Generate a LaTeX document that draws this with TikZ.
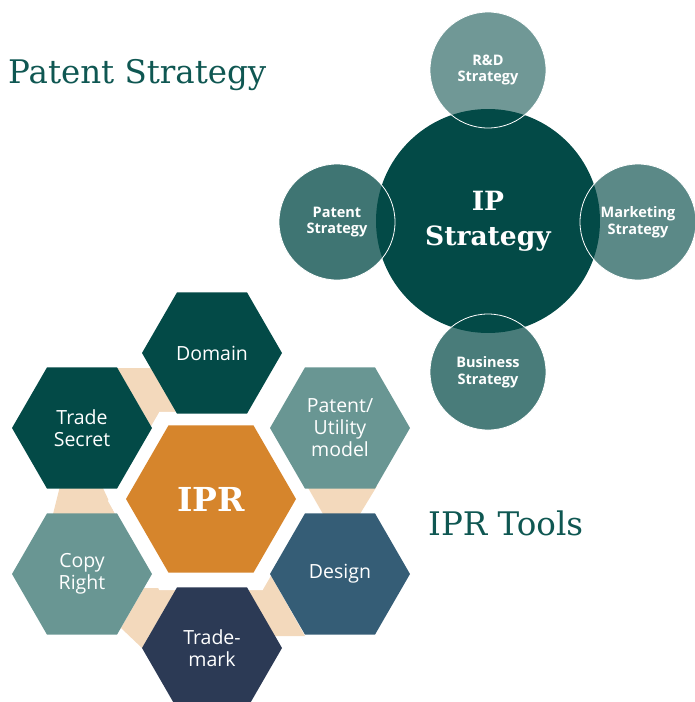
\documentclass[tikz,border=0pt]{standalone}
\usepackage{fontspec}
\setmainfont{DejaVu Serif}
\newfontfamily\osans{Open Sans}
\usetikzlibrary{shapes.geometric}
\definecolor{dteal}{HTML}{034A47}
\definecolor{gteal}{HTML}{699693}
\definecolor{sblue}{HTML}{355D76}
\definecolor{navyc}{HTML}{2C3A55}
\definecolor{orng}{HTML}{D6852C}
\definecolor{peach}{HTML}{F3D9BC}
\definecolor{ttl}{HTML}{0F5752}
\begin{document}
\begin{tikzpicture}[x=1pt,y=-1pt,
  hexa/.style={regular polygon, regular polygon sides=6, minimum size=140pt, inner sep=0pt,
    text=white, align=center, font=\osans\fontsize{19.5}{22}\selectfont},
  smallc/.style={circle, minimum size=116pt, inner sep=0pt, draw=white, line width=0.8pt,
    fill=dteal, text=white, text opacity=1, align=center,
    font=\osans\bfseries\fontsize{14.5}{16.5}\selectfont},
  titlefont/.style={anchor=base west, inner sep=0pt, text=ttl, font=\fontsize{32.5}{38}\selectfont},
  band/.style={fill=peach}]
\useasboundingbox (0,0) rectangle (695,702);
% peach bands between neighbouring hexagons
\fill[band] (117,368) -- (151,368) -- (177,413) -- (152,428) -- cycle;
\fill[band] (60,486) -- (102,486) -- (115,514) -- (53,514) -- cycle;
\fill[band] (144,588) -- (177,588) -- (142,648) -- (121,628) -- cycle;
\fill[band] (247,588) -- (270,574) -- (305,636) -- (274,636) -- cycle;
\fill[band] (307,486) -- (377,486) -- (360,514) -- (323,514) -- cycle;
% white halo around IPR
\node[hexa, fill=white, minimum size=206pt] (halo) at (211,501) {};
% hexagons
\node[hexa, fill=dteal] (dom) at (212,353) {Domain};
\node[hexa, fill=dteal] (ts) at (82,428) {Trade\\Secret};
\node[hexa, fill=gteal] (pu) at (340,428) {Patent/\\Utility\\model};
\node[hexa, fill=gteal] (cr) at (82,574) {Copy\\Right};
\node[hexa, fill=sblue] (des) at (340,574) {Design};
\node[hexa, fill=navyc] (tm) at (212,648) {Trade-\\mark};
\node[hexa, fill=orng, minimum size=170pt, font=\bfseries\fontsize{33}{40}\selectfont] (ipr) at (211,499) {IPR};
% circles
\node[circle, fill=dteal, minimum size=224pt, inner sep=0pt, text=white, align=center,
  font=\bfseries\fontsize{26.5}{35}\selectfont] (ip) at (488,221) {IP\\Strategy};
\node[smallc, fill opacity=0.57] (rd) at (488,70) {R\&D\\Strategy};
\node[smallc, fill opacity=0.76] (ps) at (337,222) {Patent\\Strategy};
\node[smallc, fill opacity=0.65] (mk) at (638,222) {Marketing\\Strategy};
\node[smallc, fill opacity=0.72] (bs) at (488,372) {Business\\Strategy};
% titles
\node[titlefont] (t1) at (8,83) {Patent Strategy};
\node[titlefont] (t2) at (428,535) {IPR Tools};
\end{tikzpicture}
\end{document}
